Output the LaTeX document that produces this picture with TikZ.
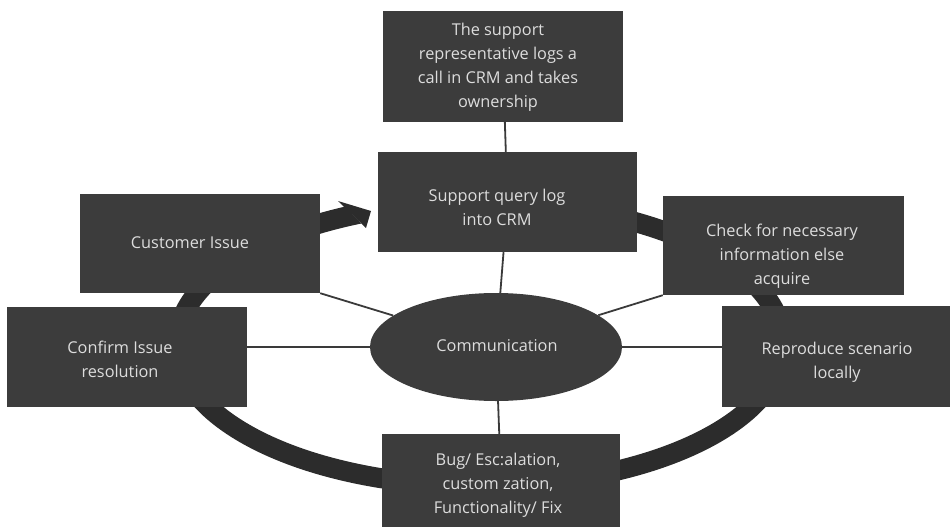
\documentclass[tikz,border=0pt]{standalone}
\usepackage{fontspec}
\setmainfont{Open Sans}
\usetikzlibrary{backgrounds,shapes.geometric}
\definecolor{boxc}{HTML}{3C3C3C}
\definecolor{ringc}{HTML}{2C2C2C}
\definecolor{txtc}{HTML}{DDDDDD}
\definecolor{linec}{HTML}{3A3A3A}
\begin{document}
\begin{tikzpicture}[x=1pt,y=-1pt,
  box/.style args={#1x#2}{fill=boxc,draw=none,minimum width=#1pt,minimum height=#2pt,inner sep=0pt},
  txt/.style={text=txtc,align=center,font=\fontsize{16.3}{24}\selectfont,inner sep=0pt},
  conn/.style={draw=linec,line width=1.8pt},
  ringline/.style={draw=ringc,line width=20pt}]
\useasboundingbox (0,0) rectangle (950,527);
% boxes
\node[box=240x111] (top) at (503,66.5) {};
\node[box=259x100] (query) at (507.5,202) {};
\node[box=240x99] (cust) at (200,243.5) {};
\node[box=241x99] (check) at (783.5,245.5) {};
\node[box=240x100] (confirm) at (127,357) {};
\node[box=228x101] (repro) at (836,356.5) {};
\node[box=238x93] (bug) at (501,480.5) {};
\node[ellipse,fill=boxc,minimum width=252pt,minimum height=108pt,inner sep=0pt] (comm) at (496,347) {};
% texts
\node[txt] (toptxt) at (498,67) {The support\\representative logs a\\call in CRM and takes\\ownership};
\node[txt] (querytxt) at (497,207.5) {Support query log\\into CRM};
\node[txt] (custtxt) at (190,243) {Customer Issue};
\node[txt] (checktxt) at (782,256) {Check for necessary\\information else\\acquire};
\node[txt] (confirmtxt) at (120,359) {Confirm Issue\\resolution};
\node[txt] (reprotxt) at (837,362) {Reproduce scenario\\locally};
\node[txt] (bugtxt) at (498,485) {Bug/ Esc:alation,\\custom zation,\\Functionality/ Fix};
\node[txt] (commtxt) at (497,346) {Communication};
\begin{scope}[on background layer]
% ring
\draw[ringline] plot[domain=90:-225,samples=260] ({480+303*cos(\x)},{344-142*sin(\x)});
\begin{scope}
\clip (226.5,84) -- (422.5,287) -- (150,287) -- (150,84) -- cycle;
\draw[ringline] plot[domain=136:108,samples=40] ({480+303*cos(\x)},{344-142*sin(\x)});
\end{scope}
\fill[ringc] (338,201) -- (371,211) -- (366,228) -- cycle;
% connectors
\draw[conn] (top) -- (query);
\draw[conn] (comm) -- (query);
\draw[conn] (comm) -- (bug);
\draw[conn] (comm) -- (cust.south east);
\draw[conn] (comm) -- (check.south west);
\draw[conn] (comm.west) -- (confirm.east |- comm.west);
\draw[conn] (comm.east) -- (repro.west |- comm.east);
\end{scope}
\end{tikzpicture}
\end{document}
